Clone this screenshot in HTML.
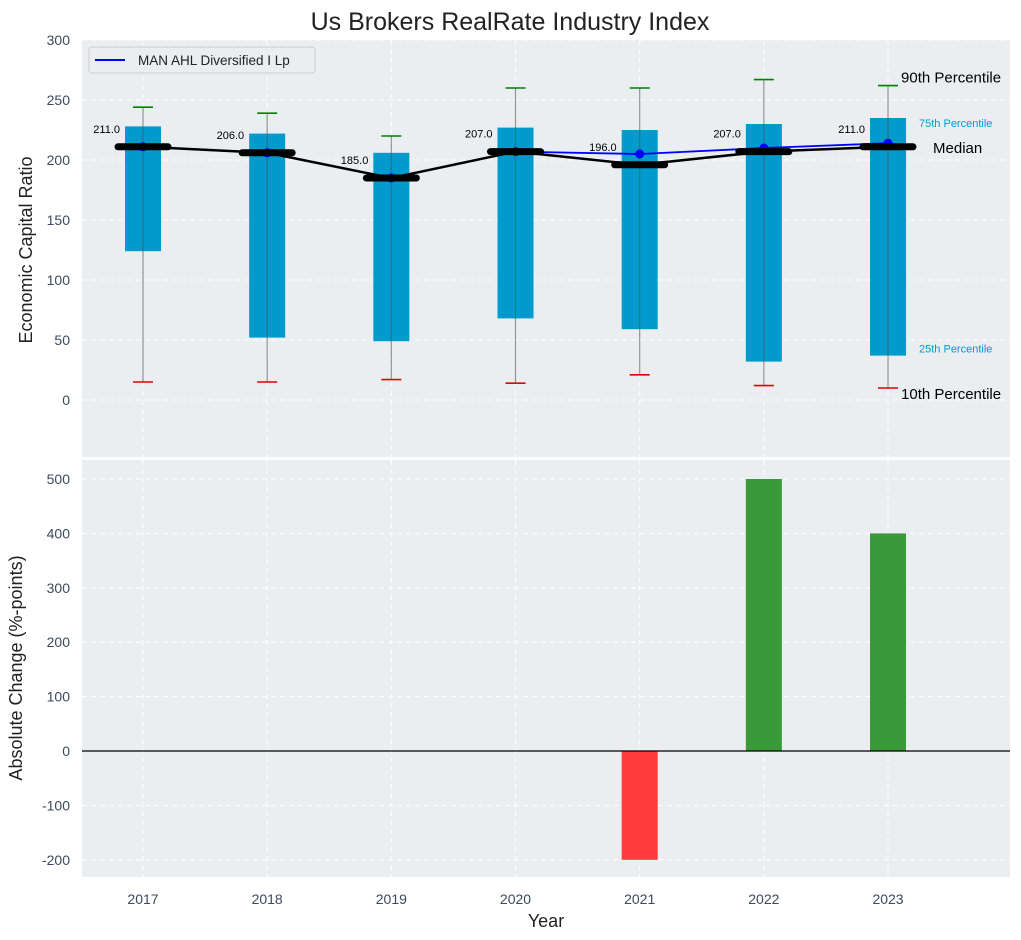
<!DOCTYPE html>
<html><head><meta charset="utf-8">
<style>
html,body{margin:0;padding:0;background:#fff;}
svg{display:block;font-family:"Liberation Sans",Arial,sans-serif;}
</style></head>
<body>
<svg id="chart" width="1021" height="940" viewBox="0 0 1021 940" xmlns="http://www.w3.org/2000/svg"></svg>
<script>
const years = [2017,2018,2019,2020,2021,2022,2023];
const p10 = [15,15,17,14,21,12,10];
const p25 = [124,52,49,68,59,32,37];
const p75 = [228,222,206,227,225,230,235];
const p90 = [244,239,220,260,260,267,262];
const median = [211,206,185,207,196,207,211];
const company = [211,206,185,207,205,210,214];
const changes = [0,0,0,0,-200,500,400];
const topTicks = [0,50,100,150,200,250,300];
const botTicks = [-200,-100,0,100,200,300,400,500];

const NS="http://www.w3.org/2000/svg";
const svg=document.getElementById('chart');
function el(tag,attrs,parent,text){const e=document.createElementNS(NS,tag);for(const k in attrs)e.setAttribute(k,attrs[k]);if(text!==undefined)e.textContent=text;(parent||svg).appendChild(e);return e;}

const L=82,R=1010;
const x=v=>143+(v-2017)*124.17;
const T0=40,T1=457;
const yT=v=>400-v*1.2;
const B0=460,B1=877;
const yB=v=>751-v*0.544;
const bw=36;

el('text',{x:510,y:30,'font-size':25,fill:'#222','text-anchor':'middle',},svg,'Us Brokers RealRate Industry Index');

el('rect',{x:L,y:T0,width:R-L,height:T1-T0,fill:'#eaeef0',});
el('rect',{x:L,y:B0,width:R-L,height:B1-B0,fill:'#eaeef0',});

const gT=el('g',{});
topTicks.forEach(t=>{
  el('line',{x1:L,x2:R,y1:yT(t),y2:yT(t),stroke:'#fff','stroke-dasharray':'5,4','stroke-width':1},gT);
  const tl=el('text',{x:L-12,y:yT(t)+5,'font-size':14,fill:'#3c4a5c','text-anchor':'end'},svg,String(t));
  
  
});
const gB=el('g',{});
botTicks.forEach(t=>{
  el('line',{x1:L,x2:R,y1:yB(t),y2:yB(t),stroke:'#fff','stroke-dasharray':'5,4','stroke-width':1},gB);
  const tl=el('text',{x:L-12,y:yB(t)+5,'font-size':14,fill:'#3c4a5c','text-anchor':'end'},svg,String(t));
  
  
});
years.forEach(yr=>{
  el('line',{x1:x(yr),x2:x(yr),y1:T0,y2:T1,stroke:'#fff','stroke-dasharray':'5,4'},gT);
  el('line',{x1:x(yr),x2:x(yr),y1:B0,y2:B1,stroke:'#fff','stroke-dasharray':'5,4'},gB);
  const tl=el('text',{x:x(yr),y:904,'font-size':14,fill:'#3c4a5c','text-anchor':'middle'},svg,String(yr));
  
  
});

years.forEach((yr,i)=>{
  const b=el('rect',{x:x(yr)-bw/2,y:yT(p75[i]),width:bw,height:yT(p25[i])-yT(p75[i]),fill:'#009acd'});
  
  
  const w=el('line',{x1:x(yr),x2:x(yr),y1:yT(p90[i]),y2:yT(p10[i]),stroke:'#555','stroke-opacity':0.6,'stroke-width':1.2});
  
  
  const c1=el('line',{x1:x(yr)-10,x2:x(yr)+10,y1:yT(p90[i]),y2:yT(p90[i]),stroke:'#008000','stroke-width':1.6});
  
  
  const c2=el('line',{x1:x(yr)-10,x2:x(yr)+10,y1:yT(p10[i]),y2:yT(p10[i]),stroke:'#e00000','stroke-width':1.6});
  
  
});
const cl=el('polyline',{points:years.map((yr,i)=>x(yr)+','+yT(company[i])).join(' '),fill:'none',stroke:'#0000ff','stroke-width':1.8});


years.forEach((yr,i)=>{
  const d=el('circle',{cx:x(yr),cy:yT(company[i]),r:4.5,fill:'#0000ff'});
  
  
});
const ml=el('polyline',{points:years.map((yr,i)=>x(yr)+','+yT(median[i])).join(' '),fill:'none',stroke:'#000','stroke-width':2.5});


years.forEach((yr,i)=>{
  const m=el('line',{x1:x(yr)-25,x2:x(yr)+25,y1:yT(median[i]),y2:yT(median[i]),stroke:'#000','stroke-width':7,'stroke-linecap':'round'});
  
  
  const t=el('text',{x:x(yr)-23,y:yT(median[i])-14,'font-size':11,fill:'#000','text-anchor':'end'},svg,median[i].toFixed(1));
  
  
});
const li=years.length-1, lx=x(years[li]);
el('text',{x:lx+13,y:yT(p90[li])-3,'font-size':15,fill:'#000',},svg,'90th Percentile');
el('text',{x:lx+31,y:yT(p75[li])+9,'font-size':11,fill:'#009acd',},svg,'75th Percentile');
el('text',{x:lx+45,y:yT(median[li])+6,'font-size':15,fill:'#000',},svg,'Median');
el('text',{x:lx+31,y:yT(p25[li])-3,'font-size':11,fill:'#009acd',},svg,'25th Percentile');
el('text',{x:lx+13,y:yT(p10[li])+11,'font-size':15,fill:'#000',},svg,'10th Percentile');

const lg=el('g',{});
el('rect',{x:89,y:47,width:226,height:26,rx:3,fill:'#eaeef0',stroke:'#ccc'},lg);
el('line',{x1:95,x2:125,y1:60,y2:60,stroke:'#0000ff','stroke-width':2},lg);
el('text',{x:138,y:65,'font-size':13.5,fill:'#222'},lg,'MAN AHL Diversified I Lp');

years.forEach((yr,i)=>{
  const v=changes[i]; if(v===0)return;
  const r=el('rect',{x:x(yr)-bw/2,y:Math.min(yB(v),yB(0)),width:bw,height:Math.abs(yB(v)-yB(0)),fill:v<0?'#ff3b3b':'#3a9a3a'});
  
  
});
el('line',{x1:L,x2:R,y1:yB(0),y2:yB(0),stroke:'#000','stroke-width':1.2,});

el('text',{x:32,y:250,'font-size':18,fill:'#222','text-anchor':'middle',transform:'rotate(-90 32 250)',},svg,'Economic Capital Ratio');
el('text',{x:22,y:668,'font-size':18,fill:'#222','text-anchor':'middle',transform:'rotate(-90 22 668)',},svg,'Absolute Change (%-points)');
el('text',{x:546,y:927,'font-size':18,fill:'#222','text-anchor':'middle',},svg,'Year');
</script>
</body></html>
